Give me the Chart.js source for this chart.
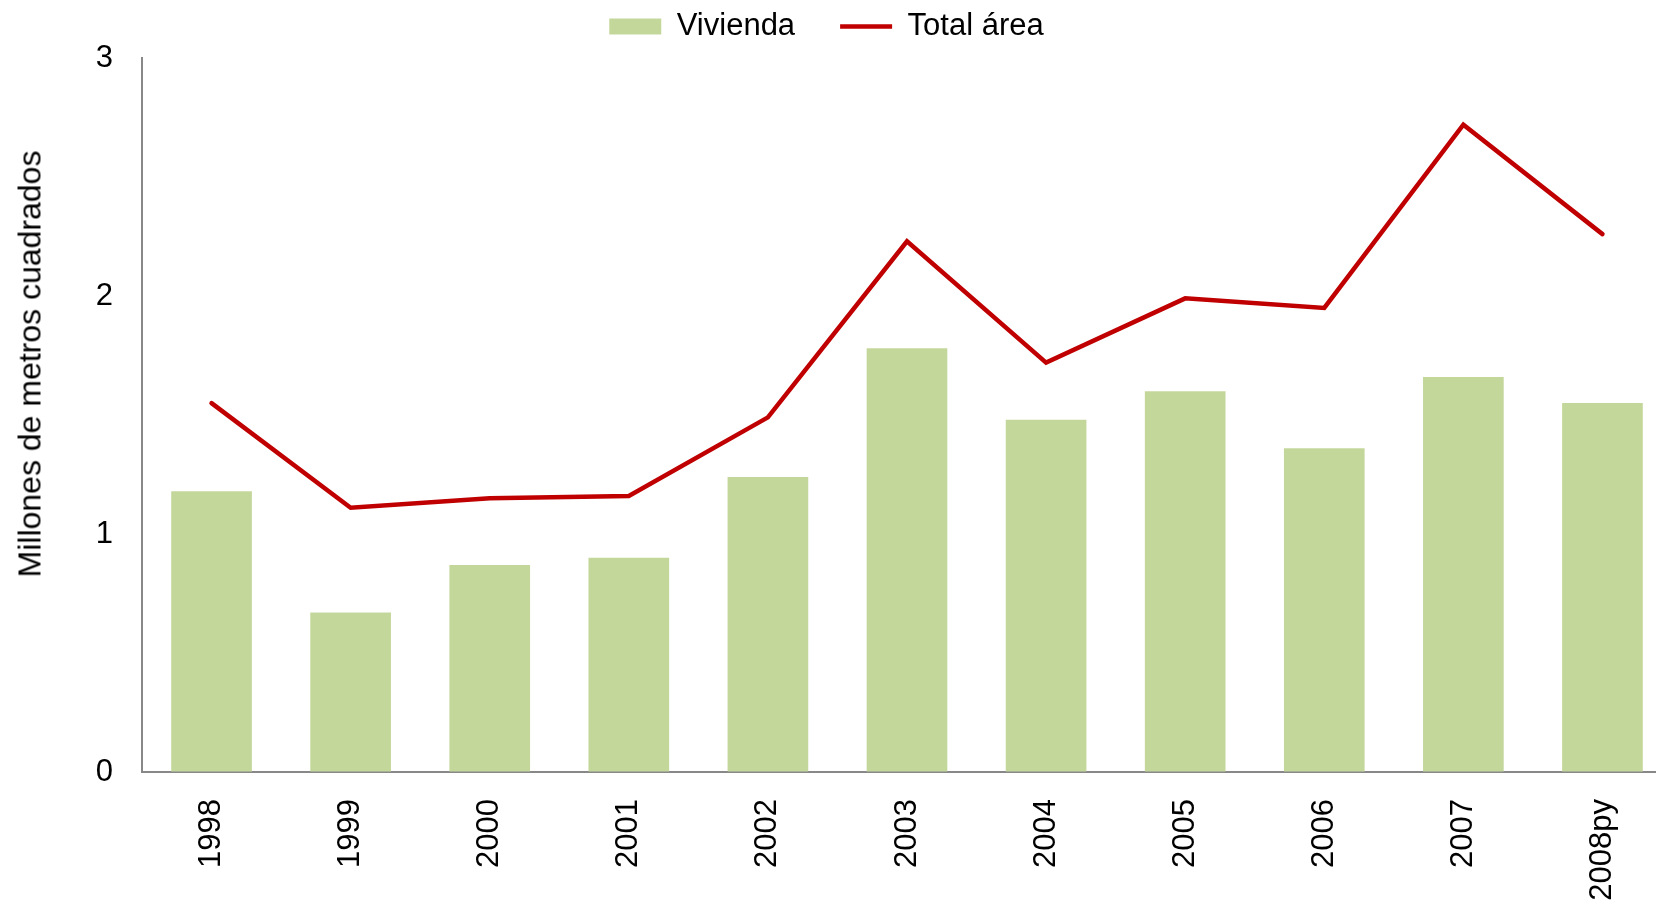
<!DOCTYPE html>
<html>
<head>
<meta charset="utf-8">
<script src="https://cdn.jsdelivr.net/npm/chart.js@4/dist/chart.umd.min.js"></script>
<style>
  html, body { margin: 0; padding: 0; background: #fff; overflow: hidden; }
  #wrap { position: relative; width: 1656px; height: 903px; overflow: hidden; }
  #c { position: absolute; left: 0; top: 0; }
  #ytitle {
    position: absolute; left: 30px; top: 364px;
    transform: translate(-50%, -50%) rotate(-90deg);
    white-space: nowrap; color: #000;
    font: 32px 'Liberation Sans', Arial, sans-serif;
  }
</style>
</head>
<body>
<div id="wrap">
  <canvas id="c" width="1672" height="903"></canvas>
  <div id="ytitle">Millones de metros cuadrados</div>
</div>
<script>
// Superficie construida (millones de m²)
const categories = ['1998', '1999', '2000', '2001', '2002', '2003', '2004', '2005', '2006', '2007', '2008py'];
const vivienda   = [1.18, 0.67, 0.87, 0.90, 1.24, 1.78, 1.48, 1.60, 1.36, 1.66, 1.55];
const totalArea  = [1.55, 1.11, 1.15, 1.16, 1.49, 2.23, 1.72, 1.99, 1.95, 2.72, 2.26];
const yMin = 0, yMax = 3, yStep = 1;

Chart.defaults.font.family = "'Liberation Sans', Arial, sans-serif";
Chart.defaults.color = '#000';

// lifts the legend row a little closer to the top edge
const legendLift = {
  id: 'legendLift',
  afterLayout(chart) {
    const lg = chart.legend;
    if (lg) { lg.top -= 6; lg.bottom -= 6; }
  }
};

new Chart(document.getElementById('c'), {
  data: {
    labels: categories,
    datasets: [
      {
        type: 'line',
        label: 'Total área',
        data: totalArea,
        borderColor: '#C00000',
        backgroundColor: '#C00000',
        borderWidth: 4.5,
        borderCapStyle: 'round',
        pointRadius: 0,
        pointStyle: 'line',
        tension: 0,
        order: 0
      },
      {
        type: 'bar',
        label: 'Vivienda',
        data: vivienda,
        backgroundColor: '#C4D79B',
        borderWidth: 0,
        pointStyle: 'rect',
        barPercentage: 0.58,
        categoryPercentage: 1.0,
        order: 1
      }
    ]
  },
  plugins: [legendLift],
  options: {
    responsive: false,
    devicePixelRatio: 1,
    animation: false,
    layout: { padding: { top: -28, right: 0, left: -19, bottom: 0 } },
    plugins: {
      tooltip: { enabled: false },
      legend: {
        position: 'top',
        reverse: true,
        labels: {
          font: { size: 31 },
          color: '#000',
          usePointStyle: true,
          pointStyleWidth: 52,
          boxHeight: 16,
          padding: 45
        }
      }
    },
    scales: {
      x: {
        offset: true,
        grid: { display: true, drawOnChartArea: false, drawTicks: false },
        border: { display: true, color: '#888888', width: 2 },
        ticks: { font: { size: 31 }, color: '#000', minRotation: 90, maxRotation: 90, padding: 27, autoSkip: false },
        afterFit: (s) => { s.height = 131; }
      },
      y: {
        min: yMin,
        max: yMax,
        grid: { display: true, drawOnChartArea: false, drawTicks: false },
        border: { display: true, color: '#888888', width: 2 },
        ticks: { stepSize: yStep, font: { size: 31 }, color: '#000', padding: 29 },
        afterFit: (s) => { s.width = 161; }
      }
    }
  }
});
</script>
</body>
</html>
